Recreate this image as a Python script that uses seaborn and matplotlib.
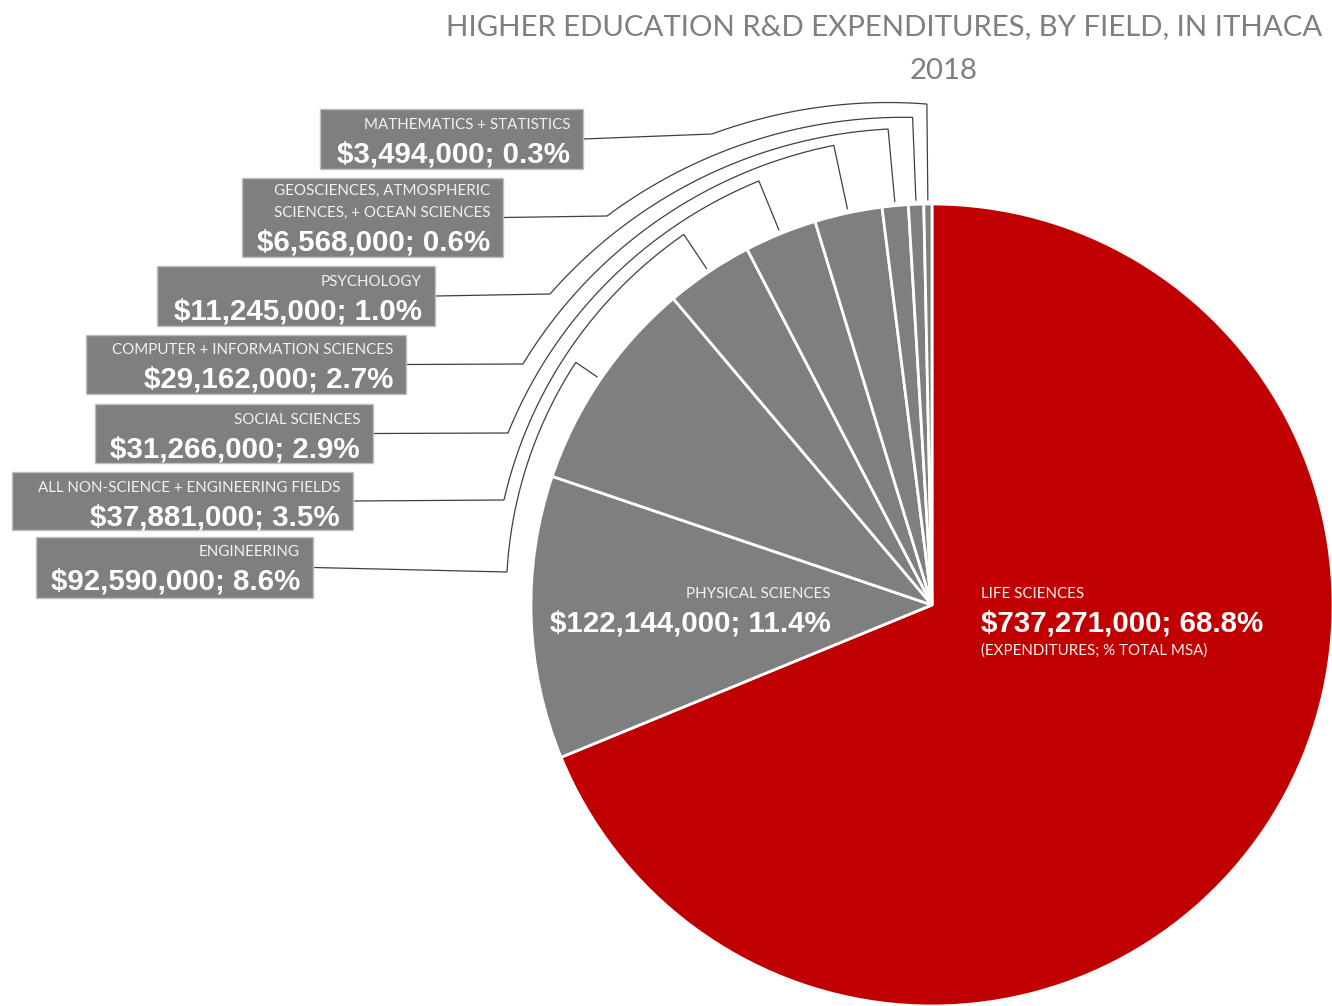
import matplotlib
matplotlib.use("Agg")
import matplotlib.pyplot as plt
import seaborn as sns
import numpy as np
from matplotlib.patches import Rectangle

# ---------------- data ----------------
fields = [
    "LIFE SCIENCES",
    "PHYSICAL SCIENCES",
    "ENGINEERING",
    "ALL NON-SCIENCE + ENGINEERING FIELDS",
    "SOCIAL SCIENCES",
    "COMPUTER + INFORMATION SCIENCES",
    "PSYCHOLOGY",
    "GEOSCIENCES, ATMOSPHERIC\nSCIENCES, + OCEAN SCIENCES",
    "MATHEMATICS + STATISTICS",
]
expenditures = [737271000, 122144000, 92590000, 37881000, 31266000,
                29162000, 11245000, 6568000, 3494000]
shares = [68.8, 11.4, 8.6, 3.5, 2.9, 2.7, 1.0, 0.6, 0.3]
title_lines = ["HIGHER EDUCATION R&D EXPENDITURES, BY FIELD, IN ITHACA", "2018"]
note = "(EXPENDITURES; % TOTAL MSA)"

# ---------------- style ----------------
sns.set_theme(style="white")
plt.rcParams["font.family"] = ["Lato", "DejaVu Sans"]
RED = "#C00000"
GREY = "#7F7F7F"
palette = sns.color_palette([RED] + [GREY] * (len(fields) - 1))
NAME_FONT = ["Lato", "DejaVu Sans"]
VALUE_FONT = ["Liberation Sans", "DejaVu Sans"]
LINE_COL = "#404040"

W, H = 1332, 1006
fig = plt.figure(figsize=(W / 100, H / 100), dpi=100)
ax = fig.add_axes([0, 0, 1, 1])

CX, CY, R = 932, 605, 401
wedges, _ = ax.pie(expenditures, colors=palette, startangle=-90, counterclock=True,
                   center=(CX, CY), radius=R, frame=True,
                   wedgeprops=dict(edgecolor="white", linewidth=2))
ax.set_xlim(0, W)
ax.set_ylim(H, 0)
ax.set_aspect("equal")
ax.axis("off")

renderer = fig.canvas.get_renderer()


def fit_size(text, family, weight, target, start=12):
    t = ax.text(0, 0, text, fontsize=start, family=family, weight=weight)
    w = t.get_window_extent(renderer).width
    t.remove()
    return start * target / w


name_fs = fit_size("MATHEMATICS + STATISTICS", NAME_FONT, "normal", 206)
value_fs = fit_size("$737,271,000; 68.8%", VALUE_FONT, "bold", 281)
title_fs = fit_size(title_lines[0], NAME_FONT, "normal", 875)


def value_label(i):
    return f"${expenditures[i]:,}; {shares[i]:.1f}%"


# ---------------- title ----------------
ax.text(1322, 35, title_lines[0], ha="right", va="baseline", fontsize=title_fs,
        family=NAME_FONT, weight="normal", color=GREY)
ax.text(944, 79, title_lines[1], ha="center", va="baseline", fontsize=title_fs,
        family=NAME_FONT, weight="normal", color=GREY)

# ---------------- in-slice labels ----------------
ax.text(831, 598.5, fields[1], ha="right", va="baseline", fontsize=name_fs,
        family=NAME_FONT, color="#F2F2F2")
ax.text(831, 631.5, value_label(1), ha="right", va="baseline", fontsize=value_fs,
        family=VALUE_FONT, weight="bold", color="white")
ax.text(981, 598.5, fields[0], ha="left", va="baseline", fontsize=name_fs,
        family=NAME_FONT, color="#F2F2F2")
ax.text(981, 631.5, value_label(0), ha="left", va="baseline", fontsize=value_fs,
        family=VALUE_FONT, weight="bold", color="white")
ax.text(981, 654.5, note, ha="left", va="baseline", fontsize=name_fs,
        family=NAME_FONT, color="#F2F2F2")

# ---------------- callout layout (box l, t, r, b), elbow point, arc start radius ----------------
callouts = {
    2: dict(box=(36, 537, 313, 598), elbow=(507, 572), r0=431),
    3: dict(box=(12, 472, 353, 530), elbow=(504, 500), r0=446),
    4: dict(box=(95, 404, 373, 463), elbow=(508, 433), r0=458),
    5: dict(box=(86, 335, 406, 394), elbow=(523, 364), r0=470),
    6: dict(box=(157, 266, 435, 326), elbow=(550, 294), r0=478),
    7: dict(box=(242, 178, 503, 257), elbow=(607, 216), r0=488),
    8: dict(box=(320, 109, 583, 169), elbow=(712, 134), r0=501),
}

for i, c in callouts.items():
    l, t, r, b = c["box"]
    ax.add_patch(Rectangle((l, t), r - l, b - t, facecolor=GREY,
                           edgecolor="#BFBFBF", linewidth=1, zorder=3))
    names = fields[i].split("\n")
    if len(names) == 1:
        name_centers = [t + 14]
        val_center = t + 43
    else:
        name_centers = [t + 11, t + 33]
        val_center = t + 62
    for nm, yc in zip(names, name_centers):
        ax.text(r - 13, yc + 5.5, nm, ha="right", va="baseline", fontsize=name_fs,
                family=NAME_FONT, color="#F2F2F2", zorder=4)
    ax.text(r - 13, val_center + 10, value_label(i), ha="right", va="baseline",
            fontsize=value_fs, family=VALUE_FONT, weight="bold", color="white", zorder=4)

    # leader line: radial tick, arc around the pie, then straight to the box
    w = wedges[i]
    th0 = np.deg2rad((w.theta1 + w.theta2) / 2)
    ex, ey = c["elbow"]
    th1 = np.arctan2(ey - CY, ex - CX)
    while th1 < th0 - np.pi:
        th1 += 2 * np.pi
    while th1 > th0 + np.pi:
        th1 -= 2 * np.pi
    r_end = np.hypot(ex - CX, ey - CY)
    s = np.linspace(0, 1, 200)
    th = th0 + (th1 - th0) * s
    rr = c["r0"] + (r_end - c["r0"]) * s
    xs = [CX + (R + 4) * np.cos(th0)] + list(CX + rr * np.cos(th)) + [r]
    ys = [CY + (R + 4) * np.sin(th0)] + list(CY + rr * np.sin(th)) + [(t + b) / 2]
    ax.plot(xs, ys, color=LINE_COL, linewidth=0.9, solid_joinstyle="miter", zorder=2)

fig.savefig("out.png", dpi=100, facecolor="white")
